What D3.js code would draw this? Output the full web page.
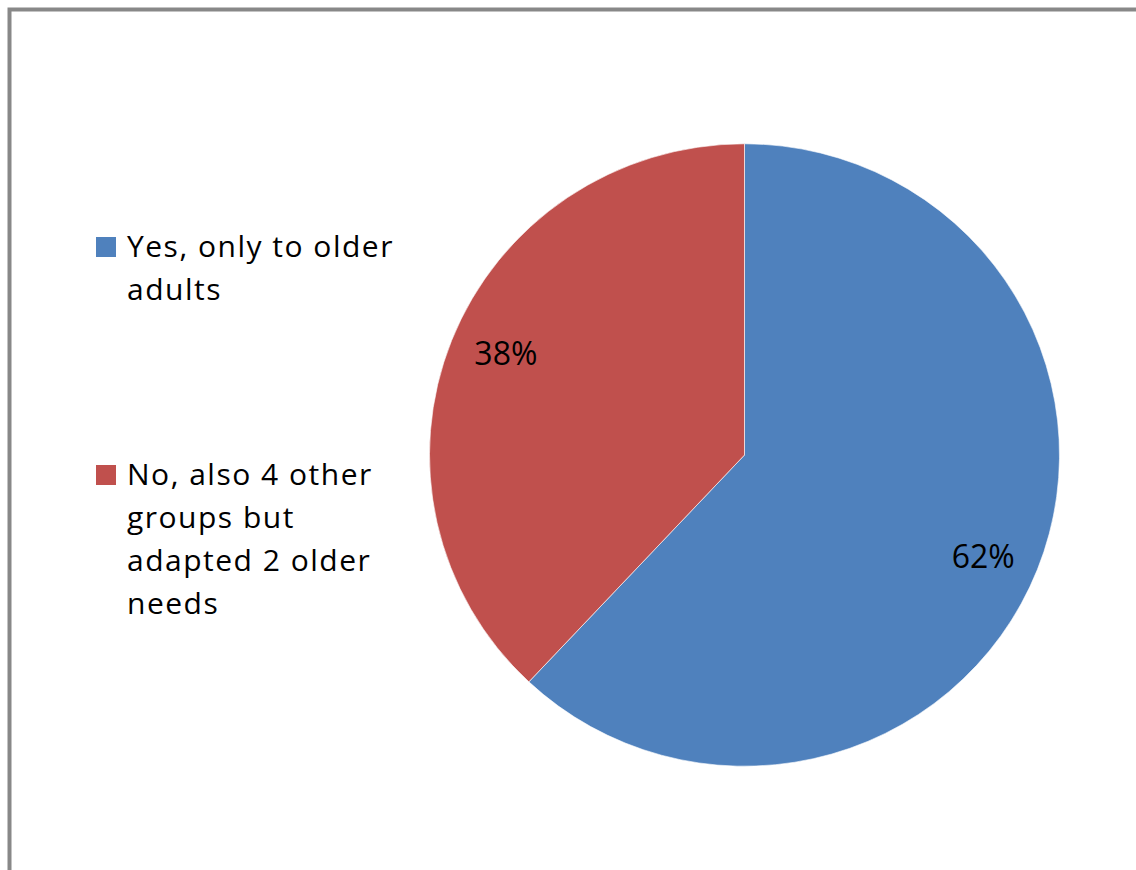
<!DOCTYPE html>
<html>
<head>
<meta charset="utf-8">
<script src="https://cdn.jsdelivr.net/npm/d3@7"></script>
<style>
  html, body { margin: 0; padding: 0; background: #fff; }
  svg { display: block; }
</style>
</head>
<body>
<svg id="chart" width="1136" height="870"></svg>
<script>
// Survey answers and their shares
const categories = ["Yes, only to older adults", "No, also 4 other groups but adapted 2 older needs"];
const values = [62, 38];
const legendLines = [
  ["Yes, only to older", "adults"],
  ["No, also 4 other", "groups but", "adapted 2 older", "needs"]
];
const colors = ["#4F81BD", "#C0504D"];

const svg = d3.select("#chart");

// chart frame (runs off the right and bottom edges)
svg.append("rect")
  .attr("x", 9.5).attr("y", 9.5)
  .attr("width", 1300).attr("height", 1000)
  .attr("fill", "#fff")
  .attr("stroke", "#888")
  .attr("stroke-width", 4);

const cx = 744.5, cy = 455, r = 315;

const pie = d3.pie().sort(null).value(d => d);
const arcs = pie(values);
const arc = d3.arc().innerRadius(0).outerRadius(r);
const labelR = r * 0.825;
// label anchor: slightly clockwise of each slice's mid-angle
const labelPos = d => {
  const a = (d.startAngle + d.endAngle) / 2 + 0.03;
  return [labelR * Math.sin(a), -labelR * Math.cos(a)];
};

const g = svg.append("g")
  .attr("transform", `translate(${cx},${cy}) scale(1,0.988)`);

g.selectAll("path.slice")
  .data(arcs)
  .join("path")
  .attr("class", "slice")
  .attr("d", arc)
  .attr("fill", (d, i) => colors[i])
  .attr("stroke", "#fff")
  .attr("stroke-opacity", 0.6)
  .attr("stroke-width", 1);

g.selectAll("text.pct")
  .data(arcs)
  .join("text")
  .attr("class", "pct")
  .attr("transform", d => `translate(${labelPos(d)}) scale(1,${1/0.988})`)
  .attr("text-anchor", "middle")
  .attr("dy", "0.36em")
  .attr("font-family", "'Open Sans', Lato, sans-serif")
  .attr("font-size", 32)
  .attr("fill", "#000")
  .text(d => d.data + "%");

// legend
const legendTop = [257, 485];
const lineH = 43;
const lg = svg.append("g");
categories.forEach((c, i) => {
  lg.append("rect")
    .attr("x", 96).attr("y", legendTop[i] - 20)
    .attr("width", 20).attr("height", 20)
    .attr("fill", colors[i]);
  const t = lg.append("text")
    .attr("x", 127).attr("y", legendTop[i])
    .attr("font-family", "'Open Sans', Lato, sans-serif")
    .attr("font-size", 30)
    .attr("letter-spacing", 1.5)
    .attr("fill", "#000");
  legendLines[i].forEach((ln, j) => {
    t.append("tspan").attr("x", 127).attr("y", legendTop[i] + j * lineH).text(ln);
  });
});
</script>
</body>
</html>
